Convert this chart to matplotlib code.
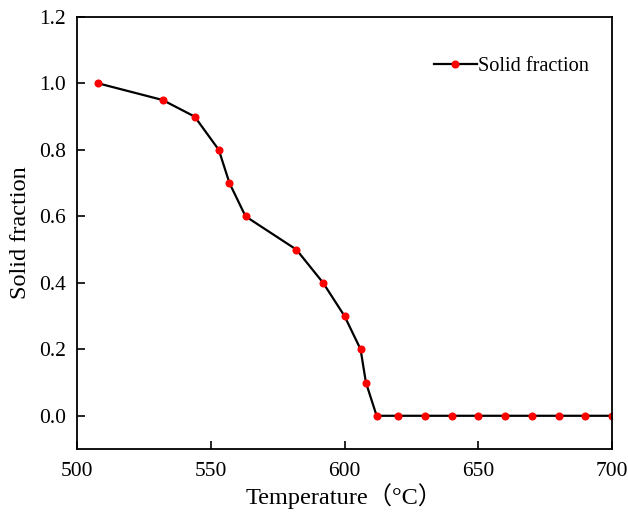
import matplotlib
matplotlib.use('Agg')
import matplotlib.pyplot as plt

temperature = [508, 532, 544, 553, 557, 563, 582, 592, 600, 606, 608, 612,
               620, 630, 640, 650, 660, 670, 680, 690, 700]
solid_fraction = [1.0, 0.95, 0.9, 0.8, 0.7, 0.6, 0.5, 0.4, 0.3, 0.2, 0.1, 0.0,
                  0.0, 0.0, 0.0, 0.0, 0.0, 0.0, 0.0, 0.0, 0.0]
x_ticks = [500, 550, 600, 650, 700]
y_ticks = [0.0, 0.2, 0.4, 0.6, 0.8, 1.0, 1.2]

plt.rcParams['font.family'] = ['Liberation Serif', 'Noto Sans CJK SC']

fig = plt.figure(figsize=(6.28, 5.12), dpi=100)
ax = fig.add_axes([0.1226, 0.123, 0.852, 0.844])

ax.plot(temperature, solid_fraction, color='black', linewidth=1.6,
        marker='o', markersize=4.8, markerfacecolor='red', markeredgecolor='red',
        label='Solid fraction')

ax.set_xlim(500, 700)
ax.set_ylim(-0.1, 1.2)
ax.set_xticks(x_ticks)
ax.set_yticks(y_ticks)
ax.set_yticklabels(['%.1f' % v for v in y_ticks])
ax.tick_params(direction='in', length=5.5, width=1.2, labelsize=15.5)
ax.tick_params(axis='y', pad=8)
ax.tick_params(axis='x', pad=9)
for s in ax.spines.values():
    s.set_linewidth(1.3)

ax.set_xlabel('Temperature（°C）', fontsize=17.5, va='center')
ax.xaxis.set_label_coords(0.5, -0.11)
ax.set_ylabel('Solid fraction', fontsize=17.5, labelpad=6)

ax.legend(loc='upper right', frameon=False, fontsize=14.6, handlelength=2.1,
          handletextpad=0.05, bbox_to_anchor=(0.99, 0.95))

fig.savefig('out.png', dpi=100)
